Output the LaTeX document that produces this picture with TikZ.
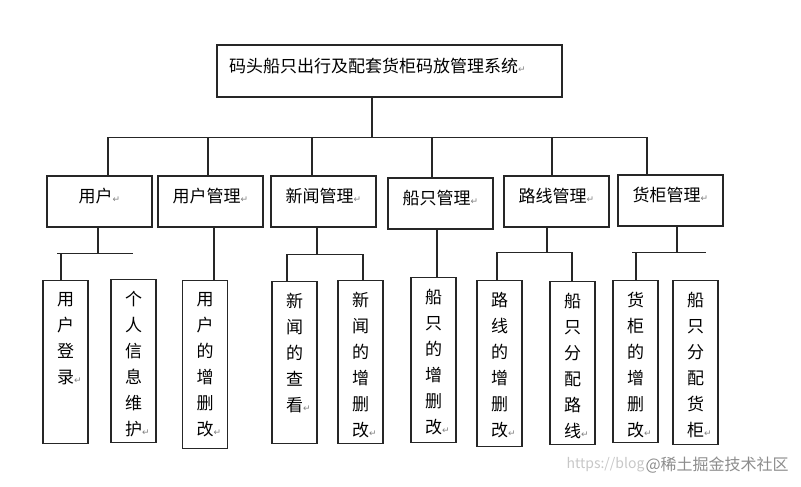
\documentclass[tikz,border=0pt]{standalone}
\usepackage{fontspec}
\setmainfont{Noto Sans CJK SC}
\newfontfamily\markfont{DejaVu Sans}
\usepackage{xcolor}
\usetikzlibrary{calc}
\newcommand*{\retmark}{{\markfont\fontsize{9}{9}\selectfont\color{gray}↵}}
\newcommand*{\vtext}[2][139pt]{\parbox[t][#1][t]{17pt}{\centering\fontsize{17}{26}\selectfont #2\rlap{\retmark}}}

\begin{document}
\begin{tikzpicture}[x=1pt, y=-1pt, line width=1.1pt, draw=black!85,
        sysbox/.style={draw, minimum width=345pt, minimum height=52pt, inner xsep=12pt,
            text width=321pt, align=left, text depth=12pt, font=\fontsize{17}{20}\selectfont},
        modbox/.style={draw, minimum width=105pt, minimum height=51pt, text depth=12pt,
            font=\fontsize{17}{20}\selectfont},
        leafbox/.style={draw, anchor=north, minimum width=45pt, inner xsep=0pt, inner ysep=12pt}]
            \useasboundingbox (0,0) rectangle (801,487);
            % system
            \node[sysbox] (sys) at (389.5,71) {码头船只出行及配套货柜码放管理系统\retmark};
            % modules
            \node[modbox] (u) at (99.5,201.5) {用户\retmark};
            \node[modbox] (um) at (210.5,201.5) {用户管理\retmark};
            \node[modbox] (nm) at (323.5,201.5) {新闻管理\retmark};
            \node[modbox] (sm) at (440.5,203.5) {船只管理\retmark};
            \node[modbox] (rm) at (556.5,201.5) {路线管理\retmark};
            \node[modbox] (cm) at (670.5,200.5) {货柜管理\retmark};
            % functions
            \node[leafbox] (u1) at (65.5,280) {\vtext{用\\户\\登\\录}};
            \node[leafbox] (u2) at (133.5,279) {\vtext{个\\人\\信\\息\\维\\护}};
            \node[leafbox] (um1) at (205,280) {\vtext[144pt]{用\\户\\的\\增\\删\\改}};
            \node[leafbox] (n1) at (294.5,281) {\vtext[138pt]{新\\闻\\的\\查\\看}};
            \node[leafbox] (n2) at (360.5,280) {\vtext{新\\闻\\的\\增\\删\\改}};
            \node[leafbox] (s1) at (433.5,277) {\vtext[141pt]{船\\只\\的\\增\\删\\改}};
            \node[leafbox] (r1) at (499.5,280) {\vtext[142pt]{路\\线\\的\\增\\删\\改}};
            \node[leafbox] (r2) at (572.5,281) {\vtext{船\\只\\分\\配\\路\\线}};
            \node[leafbox] (c1) at (635.5,280) {\vtext[138pt]{货\\柜\\的\\增\\删\\改}};
            \node[leafbox] (c2) at (695.5,280) {\vtext[140pt]{船\\只\\分\\配\\货\\柜}};

            % system to modules
            \coordinate (tf) at ($(sys.south)+(-17.5,40)$);
            \draw (tf) -- (tf |- sys.south);
            \draw ($(u.north)+(8.5,0)$) |- (tf) -| ($(cm.north)+(-23.5,0)$);
            \foreach \n/\d in {um/-2.5, nm/-11.5, sm/-8.5, rm/-4.5} {
                \coordinate (d\n) at ($(\n.north)+(\d,0)$);
                \draw (d\n) -- (d\n |- tf);
            }

            % modules to functions
            \coordinate (uf) at ($(u.south)+(-1.5,26)$);
            \draw (uf) -- (uf |- u.south);
            \draw ($(u1.north)+(-4.5,0)$) |- ($(uf)+(-41,0)$) -- ($(uf)+(35,0)$);
            \draw ($(u2.north)+(-4.5,0)$) -- ($(u2.north)+(-4.5,0)$ |- uf);
            \coordinate (umd) at ($(um.south)+(3.5,0)$);
            \draw (umd) -- (umd |- um1.north);
            \coordinate (nf) at ($(nm.south)+(-6.5,27)$);
            \draw (nf) -- (nf |- nm.south);
            \draw ($(n1.north)+(-7.5,0)$) |- (nf) -| ($(n2.north)+(2.5,0)$);
            \coordinate (smd) at ($(sm.south)+(-3.5,0)$);
            \draw (smd) -- (smd |- s1.north);
            \coordinate (rf) at ($(rm.south)+(-9.5,25)$);
            \draw (rf) -- (rf |- rm.south);
            \draw ($(r1.north)+(-2.5,0)$) |- (rf) -| ($(r2.north)+(-0.5,0)$);
            \coordinate (cf) at ($(cm.south)+(6.5,26)$);
            \draw (cf) -- (cf |- cm.south);
            \draw ($(c1.north)+(0.5,0)$) |- ($(cf)+(-45,0)$) -- ($(cf)+(29,0)$);
            \draw ($(c2.north)+(7.5,0)$) -- ($(c2.north)+(7.5,0)$ |- cf);

            % watermark
            \node[anchor=east, inner sep=0pt, text=black!22, font=\fontsize{14}{14}\selectfont] (wurl) at (645,465) {https://blog};
            \node[anchor=west, inner sep=0pt, text=black!45, font=\fontsize{16}{16}\selectfont] (wsite) at (wurl.east) {@稀土掘金技术社区};
        \end{tikzpicture}
\end{document}
